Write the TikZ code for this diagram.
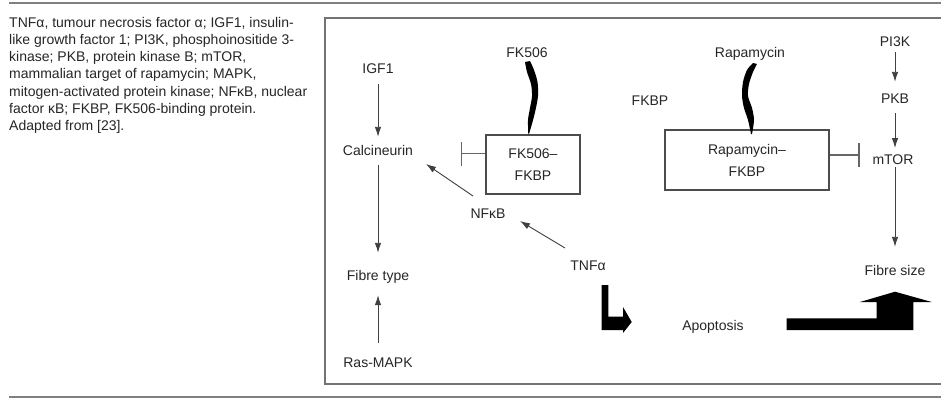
\documentclass[tikz,border=0pt]{standalone}
\usepackage{fontspec}
\setmainfont{Liberation Sans}
\usetikzlibrary{arrows.meta,calc}
\begin{document}
\begin{tikzpicture}[x=1pt,y=-1pt,
  lbl/.style={inner sep=0pt,text height=10pt,text depth=0pt,font=\fontsize{14}{17}\selectfont,text=black!85},
  boxnode/.style={draw=black!70,line width=1.3pt,inner sep=0pt,align=center,font=\fontsize{14}{22}\selectfont,text=black!85},
  arr/.style={draw=black!75,line width=0.9pt,-{Latex[length=10pt,width=6.5pt]}},
  inh/.style={draw=black!60,line width=1.2pt,-{Bar[width=24pt,line width=1.4pt]}},
  rule/.style={draw=black!50,line width=2pt},
  blk/.style={fill=black}]
\useasboundingbox (0,0) rectangle (941,399);
\fill[white] (0,0) rectangle (941,399);
% rules and frame
\draw[rule] (9,2.5) -- (941,2.5);
\draw[rule] (9,397) -- (941,397);
\draw[draw=black!55,line width=1.8pt] (950,18) -- (325,18) -- (325,384) -- (950,384);
% caption
\node[anchor=north west,inner sep=0pt,align=left,font=\fontsize{14}{17.2}\selectfont,text=black!85] (cap) at (9,17)
 {TNFα, tumour necrosis factor α; IGF1, insulin-\\
  like growth factor 1; PI3K, phosphoinositide 3-\\
  kinase; PKB, protein kinase B; mTOR,\\
  mammalian target of rapamycin; MAPK,\\
  mitogen-activated protein kinase; NFκB, nuclear\\
  factor κB; FKBP, FK506-binding protein.\\
  Adapted from [23].};
% nodes
\node[lbl] (igf) at (378,68) {IGF1};
\node[lbl] (cal) at (378,150) {Calcineurin};
\node[lbl] (ft) at (378,275) {Fibre type};
\node[lbl] (ras) at (378,362) {Ras-MAPK};
\node[lbl] (fk) at (527,52) {FK506};
\node[boxnode,minimum width=94pt,minimum height=59pt] (fkb) at (533,164.5) {FK506–\\FKBP};
\node[lbl] (nfkb) at (488,213) {NFκB};
\node[lbl] (tnf) at (588,265) {TNFα};
\node[lbl] (apo) at (713,325) {Apoptosis};
\node[lbl] (rap) at (750,52) {Rapamycin};
\node[lbl] (fkbp) at (650,100) {FKBP};
\node[boxnode,minimum width=164pt,minimum height=60pt] (rb) at (747,160) {Rapamycin–\\FKBP};
\node[lbl] (pi3k) at (895,41) {PI3K};
\node[lbl] (pkb) at (895,98) {PKB};
\node[lbl] (mtor) at (893,159) {mTOR};
\node[lbl] (fs) at (895,270) {Fibre size};
% thin arrows
\draw[arr,shorten <=11pt,shorten >=8pt] (igf) -- (cal);
\draw[arr,shorten <=10pt,shorten >=17pt] (cal) -- (ft);
\draw[arr,shorten <=14pt,shorten >=15pt] (ras) -- (ft);
\draw[arr,shorten <=6pt,shorten >=11pt] (pi3k) -- (pkb);
\draw[arr,shorten <=10pt,shorten >=11pt] (pkb) -- ($(mtor)+(2,0)$);
\draw[arr,shorten <=8pt,shorten >=18pt] ($(mtor)+(2,0)$) -- (fs);
\draw[arr] ($(nfkb)+(-15,-17)$) -- ($(cal)+(48,14)$);
\draw[arr] ($(tnf)+(-23,-17)$) -- ($(nfkb)+(32,8)$);
% inhibitions
\draw[inh] ($(fkb.west)+(0,-11)$) -- ++(-24.5,0);
\draw[inh] ($(rb.east)+(0,-5)$) -- ++(30,0);
% curved binding arrows
\fill[black] plot[smooth] coordinates {(525,62) (527,72) (531,84) (532,96) (530,108) (528,120) (528.3,134)}
  -- plot[smooth] coordinates {(529,134) (532.5,122) (535.5,110) (538,96) (537.5,82) (534,70) (530,61)} -- cycle;
\fill[black] plot[smooth] coordinates {(753,63) (747,70) (743,82) (742,96) (744,108) (748,120) (751,134)}
  -- plot[smooth] coordinates {(752,134) (754,120) (752,108) (748,96) (749,84) (753,72) (757,64)} -- cycle;
% block arrows
\fill[blk] (601.7,285) -- (608.3,285) -- (608.3,316.7) -- (623,316.7) -- (623,307) -- (631.7,322) -- (623,333) -- (623,330) -- (601.7,330) -- cycle;
\fill[blk] (786.7,318.3) -- (876.7,318.3) -- (876.7,302) -- (860,302) -- (895,291.7) -- (931.7,302) -- (913.3,302) -- (913.3,330) -- (786.7,330) -- cycle;
\end{tikzpicture}
\end{document}
